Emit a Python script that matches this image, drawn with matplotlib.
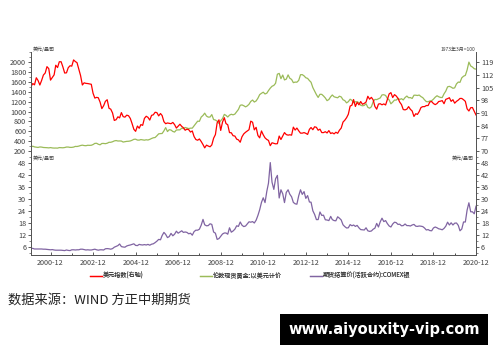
import numpy as np
import pandas as pd
import matplotlib
matplotlib.use('Agg')
import matplotlib.pyplot as plt
import matplotlib.dates as mdates
from matplotlib.ticker import MultipleLocator

plt.rcParams['font.family'] = ['Noto Sans CJK SC', 'DejaVu Sans']

# monthly values, 2000-01 .. 2020-12
dxy = [
    105.6, 107.2, 106.5, 110.4, 108.9, 106.4, 108.9, 111.9, 113.0, 116.5, 115.4, 109.1,
    110.5, 112.0, 117.3, 116.0, 119.2, 119.2, 116.4, 113.0, 113.1, 115.9, 117.0, 116.8,
    120.2, 119.3, 118.7, 115.0, 111.6, 106.4, 107.6, 107.3, 107.2, 107.0, 106.8, 101.9,
    99.2, 99.6, 99.4, 97.0, 93.4, 95.0, 97.4, 98.3, 93.6, 93.1, 91.0, 86.9,
    87.3, 88.9, 88.3, 91.2, 89.0, 88.7, 89.8, 89.5, 88.0, 85.2, 82.0, 80.9,
    83.8, 82.6, 84.6, 84.2, 88.0, 89.2, 88.6, 87.1, 89.7, 90.0, 91.4, 91.2,
    89.4, 90.7, 89.6, 86.2, 85.1, 85.5, 85.3, 85.1, 85.8, 84.6, 82.7, 83.7,
    84.8, 83.6, 82.9, 81.5, 82.1, 81.8, 80.5, 81.1, 78.0, 76.4, 76.0, 76.7,
    75.3, 73.6, 71.8, 73.3, 72.8, 72.4, 73.4, 77.1, 79.1, 85.6, 87.2, 81.4,
    86.0, 88.4, 85.2, 84.5, 80.2, 80.1, 78.5, 78.3, 76.6, 76.2, 74.9, 77.9,
    79.5, 80.4, 81.1, 81.8, 86.5, 85.9, 81.7, 83.1, 78.6, 77.3, 81.1, 79.0,
    77.3, 76.4, 75.9, 73.0, 74.6, 74.3, 74.0, 74.1, 78.3, 76.4, 78.4, 80.2,
    79.1, 78.8, 79.0, 78.8, 83.2, 81.6, 82.7, 81.2, 79.9, 79.9, 80.2, 79.8,
    79.2, 82.0, 83.0, 81.8, 83.4, 83.1, 81.5, 82.1, 80.2, 80.2, 80.7, 80.0,
    81.3, 79.7, 80.1, 79.5, 80.4, 79.8, 81.5, 82.7, 86.0, 87.0, 88.4, 90.3,
    94.8, 95.3, 98.4, 94.6, 96.9, 95.5, 97.3, 95.8, 96.3, 97.0, 100.2, 98.6,
    99.6, 98.2, 94.6, 93.1, 95.9, 96.1, 95.5, 96.0, 95.4, 98.4, 101.5, 102.2,
    99.5, 101.1, 100.4, 99.1, 97.0, 95.6, 92.9, 92.7, 93.1, 94.5, 93.0, 92.1,
    89.1, 90.6, 90.2, 91.8, 94.0, 94.5, 94.5, 95.1, 95.1, 97.1, 97.3, 96.2,
    95.6, 96.2, 97.3, 97.5, 97.8, 96.1, 98.5, 98.9, 99.4, 97.4, 98.3, 96.4,
    97.4, 98.1, 99.0, 99.0, 98.3, 97.4, 93.3, 92.1, 93.9, 94.0, 91.9, 89.9,
]

gold = [
    284, 300, 286, 280, 275, 285, 282, 274, 273, 270, 266, 272,
    265, 262, 263, 261, 272, 270, 268, 273, 283, 283, 276, 276,
    282, 296, 294, 302, 314, 321, 313, 310, 319, 317, 319, 333,
    357, 359, 340, 328, 355, 356, 351, 360, 379, 379, 390, 407,
    414, 405, 406, 404, 384, 392, 398, 400, 406, 420, 439, 442,
    424, 423, 434, 429, 422, 430, 425, 438, 456, 470, 476, 510,
    550, 555, 557, 610, 676, 596, 634, 627, 598, 586, 628, 629,
    631, 665, 655, 679, 667, 656, 665, 665, 712, 754, 806, 803,
    889, 922, 968, 909, 888, 890, 939, 839, 829, 806, 760, 816,
    858, 943, 924, 890, 928, 946, 934, 949, 996, 1043, 1127, 1135,
    1118, 1095, 1114, 1148, 1205, 1233, 1193, 1215, 1271, 1343, 1370, 1392,
    1356, 1372, 1424, 1474, 1512, 1529, 1572, 1756, 1772, 1665, 1739, 1640,
    1656, 1742, 1674, 1650, 1585, 1596, 1594, 1630, 1745, 1747, 1722, 1684,
    1671, 1627, 1593, 1485, 1414, 1343, 1286, 1350, 1348, 1316, 1275, 1221,
    1244, 1300, 1336, 1299, 1288, 1279, 1311, 1296, 1239, 1222, 1176, 1200,
    1250, 1227, 1179, 1198, 1199, 1181, 1128, 1117, 1125, 1159, 1086, 1068,
    1097, 1200, 1246, 1242, 1259, 1276, 1337, 1341, 1326, 1266, 1236, 1157,
    1192, 1234, 1231, 1266, 1246, 1260, 1236, 1283, 1314, 1280, 1283, 1265,
    1331, 1331, 1325, 1334, 1303, 1282, 1238, 1201, 1198, 1215, 1221, 1250,
    1291, 1320, 1300, 1286, 1284, 1359, 1413, 1500, 1510, 1495, 1471, 1480,
    1560, 1597, 1591, 1683, 1715, 1732, 1840, 2000, 1922, 1900, 1866, 1858,
]

silver = [
    5.3, 5.3, 5.0, 5.0, 5.0, 5.0, 5.0, 4.9, 4.9, 4.8, 4.7, 4.6,
    4.7, 4.5, 4.4, 4.4, 4.4, 4.4, 4.3, 4.2, 4.5, 4.3, 4.2, 4.6,
    4.6, 4.5, 4.6, 4.6, 4.9, 4.9, 4.7, 4.5, 4.6, 4.5, 4.5, 4.7,
    4.9, 4.6, 4.4, 4.6, 4.6, 4.5, 5.1, 5.2, 5.1, 4.9, 5.2, 5.9,
    6.3, 6.7, 7.5, 6.2, 6.0, 5.9, 6.5, 6.8, 7.0, 7.3, 7.6, 6.8,
    6.7, 7.3, 7.1, 7.0, 7.2, 7.0, 7.3, 6.9, 7.4, 7.6, 8.2, 8.9,
    9.8, 9.6, 11.7, 13.3, 12.3, 10.7, 11.2, 12.8, 11.6, 12.4, 13.9, 12.9,
    13.5, 14.1, 13.3, 13.5, 13.3, 12.6, 12.9, 11.9, 13.7, 14.4, 14.4, 14.9,
    16.9, 19.8, 17.1, 16.6, 16.7, 17.6, 17.3, 13.5, 12.9, 9.8, 10.2, 11.3,
    12.5, 13.0, 13.0, 12.4, 15.6, 13.4, 14.0, 14.9, 16.6, 16.3, 18.5, 16.9,
    16.2, 16.5, 17.5, 18.6, 18.4, 18.7, 18.0, 19.4, 21.8, 24.6, 28.3, 30.6,
    28.2, 33.9, 37.9, 48.2, 38.4, 34.8, 40.1, 41.8, 30.5, 34.6, 32.6, 28.2,
    33.3, 34.6, 32.4, 31.1, 28.3, 27.6, 27.4, 31.6, 34.6, 32.3, 33.7, 30.3,
    31.7, 28.5, 28.4, 24.1, 22.3, 19.7, 19.7, 23.5, 21.8, 21.9, 19.6, 19.5,
    19.2, 21.3, 19.7, 19.2, 19.1, 21.1, 20.4, 19.5, 17.1, 16.2, 15.5, 15.6,
    17.2, 16.6, 17.0, 16.3, 16.8, 15.6, 14.7, 14.6, 14.5, 15.6, 14.1, 13.8,
    14.0, 14.9, 15.4, 17.8, 16.0, 18.6, 20.4, 18.7, 19.2, 17.7, 16.5, 16.0,
    17.5, 18.4, 18.2, 17.3, 17.4, 16.6, 16.7, 17.5, 16.7, 16.7, 16.5, 17.0,
    17.3, 16.4, 16.3, 16.5, 16.4, 16.2, 15.5, 14.5, 14.7, 14.2, 14.1, 15.5,
    16.0, 15.6, 15.1, 14.9, 14.6, 15.3, 16.4, 18.4, 17.0, 18.1, 17.0, 17.9,
    18.0, 16.8, 14.1, 15.0, 18.5, 18.5, 24.4, 28.1, 23.6, 23.6, 22.6, 26.4,
]

dates = pd.date_range('2000-01-01', '2020-12-01', freq='MS')
gold_ticks = [200, 400, 600, 800, 1000, 1200, 1400, 1600, 1800, 2000]
dxy_ticks = [70, 77, 84, 91, 98, 105, 112, 119]
silver_ticks = [6, 12, 18, 24, 30, 36, 42, 48]
legend_labels = ['美元指数(右轴)', '伦敦现货黄金:以美元计价', '期货结算价(活跃合约):COMEX银']

RED = '#ff0000'
GREEN = '#9bbb59'
PURPLE = '#8064a2'
TXT = '#404040'
FS = 5.2

fig = plt.figure(figsize=(5.0, 3.62), dpi=100)
ax1 = fig.add_axes([0.062, 0.577, 0.890, 0.279])
ax2 = fig.add_axes([0.062, 0.2956, 0.890, 0.279], sharex=ax1)
ax1r = ax1.twinx()
ax2r = ax2.twinx()

l_gold, = ax1.plot(dates, gold, color=GREEN, lw=0.9)
l_dxy, = ax1r.plot(dates, dxy, color=RED, lw=0.9)
l_ag, = ax2.plot(dates, silver, color=PURPLE, lw=0.9)

ax1.set_ylim(160, 2202)
ax1r.set_ylim(68.9, 124.5)
ax2.set_ylim(2, 52.5)
ax2r.set_ylim(2, 52.5)
ax1.set_xlim(pd.Timestamp('2000-01-01'), pd.Timestamp('2020-12-01'))

ax1.set_yticks(gold_ticks)
ax1.yaxis.set_minor_locator(MultipleLocator(100))
ax1r.set_yticks(dxy_ticks)
ax2.set_yticks(silver_ticks)
ax2r.set_yticks(silver_ticks)
for a in (ax2, ax2r):
    a.yaxis.set_minor_locator(MultipleLocator(3))

xt = pd.date_range('2000-12-01', '2020-12-01', freq='24MS')
ax2.set_xticks(xt)
ax2.xaxis.set_major_formatter(mdates.DateFormatter('%Y-%m'))
ax2.set_xticks(pd.date_range('2001-12-01', '2019-12-01', freq='12MS'), minor=True)

for a in (ax1, ax1r):
    for s in ('top', 'bottom'):
        a.spines[s].set_visible(False)
    a.tick_params(axis='x', which='both', bottom=False, labelbottom=False)
for a in (ax2, ax2r):
    a.spines['top'].set_visible(False)

for a in (ax1, ax1r, ax2, ax2r):
    for s in a.spines.values():
        s.set_color('#555555')
        s.set_linewidth(0.7)
    a.tick_params(axis='y', which='major', labelsize=FS, colors=TXT, length=2.5,
                  width=0.6, pad=1)
    a.tick_params(axis='y', which='minor', length=1.3, width=0.5, colors='#555555')
ax2.tick_params(axis='x', which='major', labelsize=FS, colors=TXT, direction='in',
                length=2.5, width=0.6, pad=3)
ax2.tick_params(axis='x', which='minor', direction='in', length=1.5, width=0.5)

# unit labels
ax1.text(0.003, 1.0, '美元/盎司', transform=ax1.transAxes, fontsize=3.6,
         color=TXT, ha='left', va='bottom')
ax1.text(0.998, 1.0, '1973年3月=100', transform=ax1.transAxes, fontsize=3.6,
         color=TXT, ha='right', va='bottom')
ax2.text(0.003, 0.985, '美元/盎司', transform=ax2.transAxes, fontsize=3.6,
         color=TXT, ha='left', va='top')
ax2.text(0.996, 0.985, '美元/盎司', transform=ax2.transAxes, fontsize=3.6,
         color=TXT, ha='right', va='top')

# legend: one entry per fixed column
for handle, label, x0 in zip([l_dxy, l_gold, l_ag], legend_labels, [0.18, 0.40, 0.62]):
    leg = fig.legend([handle], [label], loc='center left', bbox_to_anchor=(x0, 0.238),
                     frameon=False, fontsize=4.4, handlelength=2.0,
                     handletextpad=0.15, borderpad=0, borderaxespad=0,
                     labelcolor=TXT)
    fig.add_artist(leg)

fig.text(0.016, 0.17, '数据来源：WIND 方正中期期货', fontsize=9.5,
         color='#222222', ha='left', va='center')

fig.text(0.768, 0.091, 'www.aiyouxity-vip.com', fontsize=10.5, color='white',
         weight='bold', ha='center', va='center', family='DejaVu Sans',
         bbox=dict(boxstyle='square,pad=0.55', fc='black', ec='none'))

fig.savefig('out.png', dpi=100, facecolor='white')
